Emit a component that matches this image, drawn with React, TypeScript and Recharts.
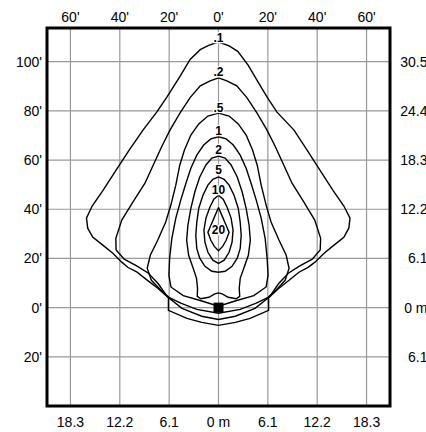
import { ScatterChart, Scatter, XAxis, YAxis, CartesianGrid, ReferenceArea } from "recharts";

const FONT = '"Liberation Sans", Arial, Helvetica, sans-serif';

// axis ticks (feet) and the matching metre labels
const feetTicksX = [-60, -40, -20, 0, 20, 40, 60];
const meterLabelsX = ["18.3", "12.2", "6.1", "0 m", "6.1", "12.2", "18.3"];
const feetTicksY = [-20, 0, 20, 40, 60, 80, 100];
const meterLabelsY = ["6.1", "0 m", "6.1", "12.2", "18.3", "24.4", "30.5"];

// iso-footcandle contours, [x ft, y ft], traced clockwise from the top
const fc01: [number, number][] = [
  [0, 108.0], [4.3, 106.4], [7.8, 104.2], [12.0, 98.6], [16.0, 91.8], [19.7, 85.6], [23.7, 79.5],
  [30.6, 72.2], [35.9, 64.0], [41.1, 55.9], [46.4, 47.7], [50.8, 41.3], [53.3, 36.4], [52.8, 32.3],
  [50.8, 28.6], [46.8, 25.4], [42.8, 22.1], [39.1, 18.5], [36.3, 16.4], [32.6, 14.4], [28.6, 11.1],
  [24.5, 7.9], [20.3, 4.0], [20.3, -1.1], [12.8, -4.4], [6.8, -6.0], [0, -7.2],
  [-6.8, -6.0], [-12.8, -4.4], [-20.3, -1.1], [-20.3, 4.0], [-24.6, 7.9], [-28.8, 11.1],
  [-33.0, 14.4], [-36.8, 16.4], [-39.2, 18.5], [-42.8, 22.1], [-46.9, 25.4], [-51.0, 28.7],
  [-53.0, 32.3], [-53.5, 36.4], [-51.2, 41.3], [-46.8, 47.7], [-41.5, 55.9], [-36.2, 64.0],
  [-30.6, 72.2], [-24.9, 79.7], [-20.8, 85.8], [-15.6, 94.0], [-11.5, 100.9], [-7.4, 104.9],
  [-4.0, 106.6], [0, 108.0],
];
const fc02: [number, number][] = [
  [0, 93.4], [3.4, 92.2], [7.4, 90.2], [11.5, 85.4], [15.5, 79.3], [19.5, 72.5], [22.9, 65.7],
  [26.2, 58.5], [29.8, 50.6], [34.8, 42.6], [39.0, 35.6], [41.4, 28.2], [41.2, 23.4], [38.0, 19.7],
  [32.6, 16.8], [28.3, 14.0], [24.3, 9.7], [20.7, 4.4], [14.8, -0.3], [6.8, -3.5], [0, -4.8],
  [-6.8, -3.5], [-14.8, -0.3], [-20.7, 4.4], [-24.4, 9.7], [-28.4, 14.0], [-32.8, 16.8],
  [-38.2, 19.7], [-41.5, 23.4], [-41.6, 28.2], [-39.2, 35.6], [-34.9, 42.6], [-29.8, 50.6],
  [-26.2, 58.5], [-22.9, 65.7], [-19.5, 72.5], [-15.5, 79.3], [-11.5, 85.4], [-7.4, 90.2],
  [-3.4, 92.2], [0, 93.4],
];
const fc05: [number, number][] = [
  [0, 79.1], [4.3, 77.9], [8.0, 74.7], [11.2, 70.2], [13.8, 64.1], [15.7, 57.9], [17.3, 49.8],
  [19.3, 41.7], [21.3, 34.8], [24.5, 27.5], [27.4, 21.4], [28.6, 16.0], [27.0, 11.1], [23.3, 7.1],
  [20.1, 4.2], [15.3, 1.8], [8.8, -0.7], [0, -2.3],
  [-8.8, -0.7], [-15.3, 1.8], [-20.1, 4.2], [-23.3, 7.1], [-27.2, 11.1], [-28.9, 16.0],
  [-27.6, 21.4], [-24.6, 27.5], [-21.4, 34.8], [-19.3, 41.7], [-17.3, 49.8], [-15.7, 57.9],
  [-13.8, 64.1], [-11.2, 70.2], [-8.0, 74.7], [-4.3, 77.9], [0, 79.1],
];
const fc1: [number, number][] = [
  [0, 69.5], [3.1, 68.6], [6.0, 66.1], [8.8, 62.0], [11.2, 56.7], [13.2, 50.6], [15.3, 43.7],
  [17.3, 36.4], [18.9, 28.2], [19.7, 20.1], [20.1, 13.2], [19.3, 8.4], [14.3, 4.9], [7.4, 2.9],
  [0, 0.6],
  [-7.4, 2.9], [-14.3, 4.9], [-19.3, 8.4], [-20.1, 13.2], [-19.8, 20.1], [-18.9, 28.2],
  [-17.3, 36.4], [-15.3, 43.7], [-13.2, 50.6], [-11.2, 56.7], [-8.8, 62.0], [-6.0, 66.1],
  [-3.1, 68.6], [0, 69.5],
];
const fc2: [number, number][] = [
  [0, 61.6], [2.7, 60.8], [5.1, 58.0], [7.6, 53.1], [9.6, 47.0], [11.2, 40.4], [12.4, 33.5],
  [12.9, 27.4], [12.1, 21.3], [10.4, 16.4], [8.8, 11.9], [8.4, 7.9], [8.6, 4.6], [7.2, 3.6],
  [3.9, 4.2], [1.5, 5.6], [0, 6.0],
  [-1.5, 5.6], [-3.9, 4.2], [-7.2, 3.6], [-8.6, 4.6], [-8.5, 7.9], [-8.9, 11.9], [-10.4, 16.4],
  [-12.1, 21.3], [-12.9, 27.4], [-12.4, 33.5], [-11.2, 40.4], [-9.6, 47.0], [-7.6, 53.1],
  [-5.1, 58.0], [-2.7, 60.8], [0, 61.6],
];
const fc5: [number, number][] = [
  [0, 53.2], [2.3, 52.2], [4.3, 49.8], [6.3, 45.7], [8.0, 40.4], [8.8, 34.7], [9.2, 29.4],
  [8.8, 24.1], [7.6, 20.1], [5.5, 16.8], [2.7, 14.8], [0, 14.4],
  [-2.7, 14.8], [-5.5, 16.8], [-7.6, 20.1], [-8.8, 24.1], [-9.2, 29.4], [-8.8, 34.7],
  [-8.0, 40.4], [-6.3, 45.7], [-4.3, 49.8], [-2.3, 52.2], [0, 53.2],
];
const fc10: [number, number][] = [
  [0, 45.7], [1.9, 44.1], [3.5, 40.8], [5.1, 36.4], [5.9, 31.5], [5.5, 26.6], [4.3, 22.5],
  [2.3, 19.3], [0, 18.0],
  [-2.3, 19.3], [-4.3, 22.5], [-5.5, 26.6], [-5.9, 31.5], [-5.1, 36.4], [-3.5, 40.8],
  [-1.9, 44.1], [0, 45.7],
];
const fc20: [number, number][] = [
  [0, 40.7], [1.5, 37.2], [2.9, 33.9], [4.3, 30.6], [3.1, 27.4], [1.7, 24.9], [0, 23.1],
  [-1.7, 24.9], [-3.1, 27.4], [-4.3, 30.6], [-2.9, 33.9], [-1.5, 37.2], [0, 40.7],
];

const contours = [fc01, fc02, fc05, fc1, fc2, fc5, fc10, fc20];

// contour values and where they are written on the 0' line
const contourLabels = [".1", ".2", ".5", "1", "2", "5", "10", "20"];
const labelHeights = [109.6, 95.8, 81.2, 72.0, 64.4, 56.2, 48.1, 31.8];

const fixture = [{ x: 0, y: 0 }];

const X_DOMAIN: [number, number] = [-69.5, 69.5];
const Y_DOMAIN: [number, number] = [-40, 113.7];

const labelData = contourLabels.map((label, i) => ({ x: 0, y: labelHeights[i], label }));

function RightTick({ y, payload }: any) {
  const i = feetTicksY.indexOf(payload.value);
  return (
    <text x={427.5} y={y} dy="0.355em" textAnchor="end" fontSize={14} fontFamily={FONT} fill="#000">
      {meterLabelsY[i]}
    </text>
  );
}

export default function App() {
  return (
    <div style={{ position: "fixed", left: 0, top: 0, width: 426, height: 432, background: "#fff" }}>
      <ScatterChart width={426} height={432} margin={{ top: 0, right: 0, bottom: 0, left: 0 }}>
        <CartesianGrid stroke="#999" strokeWidth={1.2} />
        <XAxis
          type="number"
          dataKey="x"
          orientation="top"
          height={28}
          domain={X_DOMAIN}
          ticks={feetTicksX}
          allowDataOverflow
          axisLine={false}
          tickLine={false}
          tickSize={4}
          tickMargin={2}
          interval={0}
          tick={{ fontSize: 14, fontFamily: FONT, fill: "#000" }}
          tickFormatter={(v: number) => `${Math.abs(v)}'`}
        />
        <XAxis
          xAxisId="m"
          type="number"
          dataKey="x"
          orientation="bottom"
          height={26}
          domain={X_DOMAIN}
          ticks={feetTicksX}
          allowDataOverflow
          axisLine={false}
          tickLine={false}
          tickSize={8}
          tickMargin={3}
          interval={0}
          tick={{ fontSize: 14, fontFamily: FONT, fill: "#000" }}
          tickFormatter={(v: number) => meterLabelsX[feetTicksX.indexOf(v)]}
        />
        <YAxis
          type="number"
          dataKey="y"
          width={47}
          domain={Y_DOMAIN}
          ticks={feetTicksY}
          allowDataOverflow
          axisLine={false}
          tickLine={false}
          tickSize={3}
          tickMargin={2}
          interval={0}
          tick={{ fontSize: 14, fontFamily: FONT, fill: "#000" }}
          tickFormatter={(v: number) => `${Math.abs(v)}'`}
        />
        <YAxis
          yAxisId="m"
          type="number"
          dataKey="y"
          orientation="right"
          width={36}
          domain={Y_DOMAIN}
          ticks={feetTicksY}
          allowDataOverflow
          axisLine={false}
          tickLine={false}
          interval={0}
          tick={<RightTick />}
        />
        {contours.map((c, i) => (
          <Scatter
            key={i}
            data={c.map(([x, y]) => ({ x, y }))}
            fill="#000"
            line={{ stroke: "#000", strokeWidth: 1.4 }}
            lineJointType="linear"
            shape={() => <g />}
            isAnimationActive={false}
          />
        ))}
        <Scatter
          data={fixture}
          isAnimationActive={false}
          shape={(p: any) => <rect x={p.cx - 5} y={p.cy - 5} width={10} height={10} fill="#000" />}
        />
        <Scatter
          data={labelData}
          xAxisId="m"
          yAxisId="m"
          isAnimationActive={false}
          shape={(p: any) => (
            <text
              x={p.cx}
              y={p.cy}
              dy="0.355em"
              textAnchor="middle"
              fontSize={12}
              fontWeight="bold"
              fontFamily={FONT}
              fill="#000"
              stroke="#fff"
              strokeWidth={2.5}
              paintOrder="stroke"
            >
              {p.payload.label}
            </text>
          )}
        />
        <ReferenceArea
          x1={X_DOMAIN[0]}
          x2={X_DOMAIN[1]}
          y1={Y_DOMAIN[0]}
          y2={Y_DOMAIN[1]}
          fill="none"
          stroke="#000"
          strokeWidth={3}
        />
      </ScatterChart>
    </div>
  );
}
